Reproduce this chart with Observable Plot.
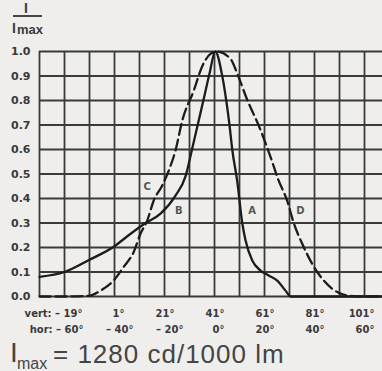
<!DOCTYPE html>
<html>
<head>
<meta charset="utf-8">
<script src="https://cdn.jsdelivr.net/npm/d3@7"></script>
<script src="https://cdn.jsdelivr.net/npm/@observablehq/plot@0.6"></script>
<style>
  html, body { margin: 0; padding: 0; background: #efeeec; }
  body { width: 382px; height: 371px; overflow: hidden; font-family: "Liberation Sans", Arial, sans-serif; color: #3a3a3a; }
  #head { position: relative; height: 40px; }
  #cap { position: relative; height: 31px; }
  .abs { position: absolute; white-space: nowrap; line-height: 1; }
  svg { display: block; }
</style>
</head>
<body>
<div id="head">
  <div class="abs" style="left:24px; top:1px; font-size:14px; font-weight:bold;">I</div>
  <div class="abs" style="left:13px; top:15px; width:29px; height:2px; background:#444;"></div>
  <div class="abs" style="left:12px; top:21px; font-size:14px; font-weight:bold;">I</div>
  <div class="abs" style="left:17px; top:22.5px; font-size:13px; font-weight:bold;">max</div>
</div>
<div id="chart"></div>
<div id="cap">
  <div class="abs" style="left:10px; top:-1px; font-size:28px; color:#444;">I</div>
  <div class="abs" style="left:17px; top:15.5px; font-size:16px; color:#444;">max</div>
  <div class="abs" style="left:53px; top:1px; font-size:26px; letter-spacing:1px; color:#444;">= 1280 cd/1000 lm</div>
</div>
<script>
// Relative intensity I/Imax vs horizontal angle (degrees)
const solidAngle = [-70, -60, -50, -40, -35, -28.3, -21.6, -15.6, -11.6, -9, -6.5, -4, -2, 0.3, 3.1, 4.7, 6, 7.1, 9.1, 11.1, 12.4, 15.1, 18.4, 21.7, 25.1, 28.4, 30.4, 40, 67];
const solidValue = [0.08, 0.10, 0.15, 0.205, 0.245, 0.295, 0.338, 0.412, 0.49, 0.60, 0.71, 0.82, 0.91, 1.0, 0.90, 0.80, 0.70, 0.60, 0.47, 0.30, 0.23, 0.147, 0.106, 0.086, 0.065, 0.024, 0.0, 0.0, 0.0];

const dashedAngle = [-70, -60, -50, -45.6, -40.4, -36.4, -32.4, -29.6, -26.9, -24.3, -20.9, -18.3, -15.6, -12.9, -8.3, -4.9, -1.6, 1, 6.4, 9.1, 12.8, 18.4, 22.4, 25.4, 29.1, 31.7, 35.1, 39.1, 43.7, 49.1, 53.1, 60, 67];
const dashedValue = [0.0, 0.0, 0.003, 0.024, 0.065, 0.12, 0.18, 0.256, 0.31, 0.392, 0.453, 0.514, 0.596, 0.718, 0.84, 0.94, 0.99, 1.0, 0.97, 0.91, 0.81, 0.68, 0.57, 0.48, 0.39, 0.30, 0.215, 0.133, 0.065, 0.018, 0.004, 0.0, 0.0];

const curveLabels = ["A", "B", "C", "D"];
const labelAngle = [15, -14.3, -26.9, 34.4];
const labelValue = [0.35, 0.35, 0.446, 0.35];

const horTicks = [-60, -40, -20, 0, 20, 40, 60];
const vertTicks = [-19, 1, 21, 41, 61, 81, 101];
const yTicks = [0, 0.1, 0.2, 0.3, 0.4, 0.5, 0.6, 0.7, 0.8, 0.9, 1.0];
const gridAngles = [-70, -60, -50, -40, -30, -20, -10, 0, 10, 20, 30, 40, 50, 60];

const solid = solidAngle.map((a, i) => ({a, v: solidValue[i]}));
const dashed = dashedAngle.map((a, i) => ({a, v: dashedValue[i]}));
const labels = curveLabels.map((t, i) => ({t, a: labelAngle[i], v: labelValue[i]}));

const fmtDeg = (d) => (d < 0 ? "\u2013 " + Math.abs(d) : String(d)) + "\u00B0";
const horRows = horTicks.map((h, i) => ({x: h, vert: vertTicks[i], hor: h, first: i === 0}));
const vertText = (r) => (r.first ? "vert: " : "") + fmtDeg(r.vert);
const horText = (r) => (r.first ? "hor: " : "") + fmtDeg(r.hor);

const lab = {fontFamily: "DejaVu Sans", fontWeight: "bold", fontSize: 10, fill: "#3a3a3a", textAnchor: "end", frameAnchor: "bottom", lineAnchor: "bottom"};

const chart = Plot.plot({
  width: 382,
  height: 300,
  marginTop: 11,
  marginBottom: 44,
  marginLeft: 39,
  marginRight: 0,
  style: {background: "transparent", color: "#3a3a3a", fontFamily: "DejaVu Sans"},
  x: {domain: [-70, 67.2], axis: null},
  y: {domain: [0, 1]},
  marks: [
    Plot.ruleX(gridAngles, {stroke: "#3a3a3a", strokeWidth: 1.8}),
    Plot.ruleY(yTicks, {stroke: "#3a3a3a", strokeWidth: 1.8}),
    Plot.axisY(yTicks, {tickSize: 0, tickPadding: 9, tickFormat: d3.format(".1f"), fontSize: 11, fontWeight: "bold", fontFamily: "DejaVu Sans", color: "#3a3a3a", label: null}),
    Plot.line(solid, {x: "a", y: "v", curve: "monotone-x", stroke: "#1c1c1c", strokeWidth: 2.3}),
    Plot.line(dashed, {x: "a", y: "v", curve: "monotone-x", stroke: "#1c1c1c", strokeWidth: 2.3, strokeDasharray: "11,5"}),
    Plot.text(labels, {x: "a", y: "v", text: "t", fontFamily: "DejaVu Sans", fontWeight: "bold", fontSize: 10, fill: "#555"}),
    Plot.text(horRows.filter(r => r.vert < 0), {...lab, x: "x", text: vertText, dx: 18, dy: 20}),
    Plot.text(horRows.filter(r => r.vert >= 0), {...lab, x: "x", text: vertText, dx: 10, dy: 20}),
    Plot.text(horRows.filter(r => r.hor < 0), {...lab, x: "x", text: horText, dx: 19, dy: 36}),
    Plot.text(horRows.filter(r => r.hor >= 0), {...lab, x: "x", text: horText, dx: 10, dy: 36})
  ]
});
document.getElementById("chart").appendChild(chart);
</script>
</body>
</html>
